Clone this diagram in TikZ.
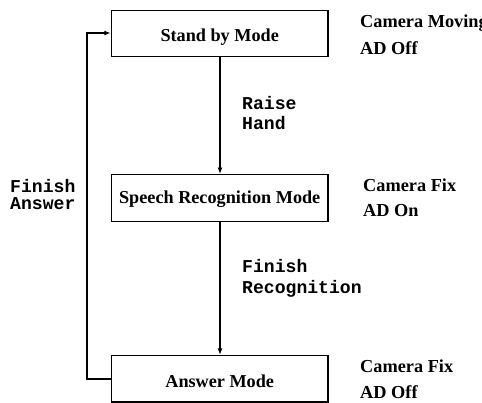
\documentclass[tikz,border=0pt]{standalone}
\usepackage{fontspec}
\setmainfont{Liberation Serif}
\newfontfamily\labelmono{Liberation Mono}
\usetikzlibrary{arrows.meta}
\tikzset{
  modebox/.style={draw=black, line width=1.3pt, minimum width=216.5pt, minimum height=46.5pt, inner sep=0pt},
  modetext/.style={anchor=base, inner sep=0pt, font=\fontsize{18.2}{20}\selectfont\bfseries},
  statetext/.style={anchor=base west, inner sep=0pt, font=\fontsize{18.3}{20}\selectfont\bfseries},
  eventtext/.style={anchor=base west, inner sep=0pt, text height=11pt, text depth=0pt, font=\fontsize{18.1}{20}\selectfont\labelmono\bfseries},
  flow/.style={line width=1.4pt, -{Latex[length=6.5pt,width=5pt]}}
}
\begin{document}
\begin{tikzpicture}[x=1pt,y=-1pt]
\useasboundingbox (0,0) rectangle (482,403);
\clip (0,0) rectangle (482,403);
% boxes
\node[modebox] (sb) at (219.7,33.5) {};
\node[modebox] (sr) at (219.7,198) {};
\node[modebox] (am) at (219.7,378.8) {};
\node[modetext] (sbt) at (219.7,42) {Stand by Mode};
\node[modetext] (srt) at (219.7,203.3) {Speech Recognition Mode};
\node[modetext] (amt) at (219.7,387) {Answer Mode};
% connectors
\draw[flow] (sb.south -| 220,0) -- (sr.north -| 220,0);
\draw[flow] (sr.south -| 220,0) -- (am.north -| 220,0);
\coordinate (lb) at (87,379);
\coordinate (lt) at (87,33);
\draw[flow] (am.west |- lb) -- (lb) -- (lt) -- (sb.west |- lt);
% event labels
\node[eventtext] (e1) at (242,110) {Raise};
\node[eventtext] (e2) at (242,130) {Hand};
\node[eventtext] (e3) at (242,273) {Finish};
\node[eventtext] (e4) at (242,294) {Recognition};
\node[eventtext] (e5) at (10,193) {Finish};
\node[eventtext] (e6) at (10,209.5) {Answer};
% state labels
\node[statetext] (s1) at (360,28) {Camera Moving};
\node[statetext] (s2) at (360,55) {AD Off};
\node[statetext] (s3) at (363,192) {Camera Fix};
\node[statetext] (s4) at (363,217) {AD On};
\node[statetext] (s5) at (360,373) {Camera Fix};
\node[statetext] (s6) at (360,398) {AD Off};
\end{tikzpicture}
\end{document}
